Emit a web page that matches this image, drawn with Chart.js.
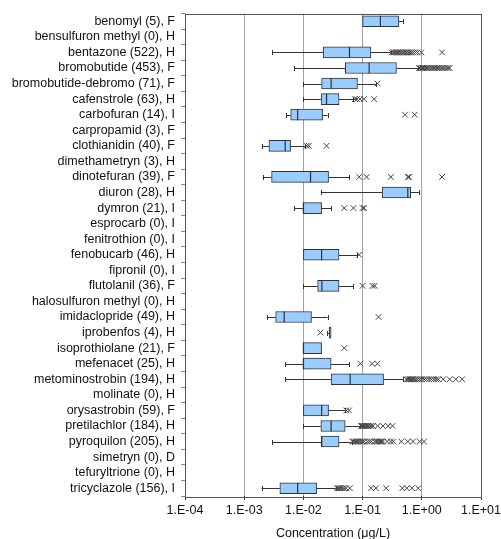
<!DOCTYPE html>
<html>
<head>
<meta charset="utf-8">
<script src="https://cdn.jsdelivr.net/npm/chart.js@4.4.1/dist/chart.umd.min.js"></script>
<style>
  html, body { margin: 0; padding: 0; background: #fff; }
  #wrap { width: 501px; height: 539px; position: relative; }
</style>
</head>
<body>
<div id="wrap"><canvas id="c"></canvas></div>
<script>
// Pesticide concentrations: one box per compound (whiskers, quartiles, median, outliers)
const compounds = [
  'benomyl', 'bensulfuron methyl', 'bentazone', 'bromobutide', 'bromobutide-debromo',
  'cafenstrole', 'carbofuran', 'carpropamid', 'clothianidin', 'dimethametryn',
  'dinotefuran', 'diuron', 'dymron', 'esprocarb', 'fenitrothion', 'fenobucarb',
  'fipronil', 'flutolanil', 'halosulfuron methyl', 'imidaclopride', 'iprobenfos',
  'isoprothiolane', 'mefenacet', 'metominostrobin', 'molinate', 'orysastrobin',
  'pretilachlor', 'pyroquilon', 'simetryn', 'tefuryltrione', 'tricyclazole'
];
const sampleCounts = [5, 0, 522, 453, 71, 63, 14, 3, 40, 3, 39, 28, 21, 0, 0, 46,
  0, 36, 0, 49, 4, 21, 25, 194, 0, 59, 184, 205, 0, 0, 156];
const useTypes = ['F', 'H', 'H', 'F', 'F', 'H', 'I', 'F', 'F', 'H', 'F', 'H', 'I', 'I', 'I', 'H',
  'I', 'F', 'H', 'H', 'H', 'F', 'H', 'H', 'H', 'F', 'H', 'H', 'D', 'H', 'I'];

const whiskerLow = [0.1, null, 0.003, 0.007, 0.01, 0.01, 0.0051, null, 0.00202, null,
  0.00205, 0.0197, 0.007, null, null, 0.01, null, 0.01, null, 0.00239, 0.0252,
  0.01, 0.00493, 0.00493, null, 0.01, 0.01, 0.003, null, null, 0.00197];
const q1 = [0.1, null, 0.0216, 0.051, 0.0203, 0.0199, 0.0061, null, 0.00262, null,
  0.0029, 0.214, 0.01, null, null, 0.01, null, 0.0174, null, 0.0034, 0.0273,
  0.01, 0.01, 0.0294, null, 0.01, 0.0197, 0.0203, null, null, 0.0040];
const median = [0.2, null, 0.060, 0.129, 0.0294, 0.0246, 0.0080, null, 0.00493, null,
  0.0132, 0.58, 0.01, null, null, 0.0203, null, 0.0205, null, 0.00474, 0.028,
  0.01, 0.01, 0.0616, null, 0.0203, 0.0294, 0.0203, null, null, 0.0080];
const q3 = [0.41, null, 0.138, 0.373, 0.082, 0.040, 0.0211, null, 0.00608, null,
  0.0266, 0.65, 0.0203, null, null, 0.040, null, 0.040, null, 0.0137, 0.0294,
  0.0203, 0.0294, 0.226, null, 0.0266, 0.0508, 0.040, null, null, 0.0167];
const whiskerHigh = [0.48, null, 0.30, 0.86, 0.168, 0.069, 0.0256, null, 0.0106, null,
  0.0593, 0.89, 0.0294, null, null, 0.082, null, 0.069, null, 0.0256, 0.0294,
  0.0203, 0.0593, 0.48, null, 0.050, 0.092, 0.065, null, null, 0.0354];
const outliers = [
  [],
  [],
  [0.31, 0.33, 0.35, 0.37, 0.39, 0.41, 0.43, 0.46, 0.49, 0.52, 0.55, 0.59, 0.63, 0.67, 0.72, 0.78, 0.85, 0.98, 2.2],
  [0.90, 0.95, 1.0, 1.05, 1.1, 1.16, 1.23, 1.3, 1.4, 1.5, 1.6, 1.7, 1.8, 1.9, 2.0, 2.2, 2.4, 2.6, 2.8, 2.95],
  [0.178],
  [0.074, 0.08, 0.09, 0.105, 0.157],
  [0.52, 0.76],
  [],
  [0.0113, 0.0123, 0.0246],
  [],
  [0.0875, 0.117, 0.30, 0.58, 0.61, 2.2],
  [],
  [0.049, 0.070, 0.1, 0.106],
  [],
  [],
  [0.0875],
  [],
  [0.10, 0.147, 0.16],
  [],
  [0.186],
  [0.0194],
  [0.049],
  [0.092, 0.145, 0.178],
  [0.55, 0.58, 0.61, 0.64, 0.67, 0.70, 0.74, 0.79, 0.85, 0.92, 1.0, 1.1, 1.2, 1.32, 1.45, 1.6, 1.75, 1.9, 2.3, 2.95, 3.75, 4.8],
  [],
  [0.053, 0.059],
  [0.094, 0.097, 0.10, 0.104, 0.108, 0.112, 0.117, 0.123, 0.13, 0.14, 0.15, 0.18, 0.22, 0.27, 0.32],
  [0.067, 0.071, 0.075, 0.079, 0.083, 0.088, 0.094, 0.1, 0.106, 0.12, 0.13, 0.14, 0.16, 0.17, 0.18, 0.19, 0.2, 0.21, 0.22, 0.26, 0.3, 0.33, 0.45, 0.58, 0.71, 0.92, 1.09],
  [],
  [],
  [0.037, 0.039, 0.041, 0.043, 0.046, 0.049, 0.053, 0.061, 0.139, 0.168, 0.25, 0.47, 0.56, 0.68, 0.87]
];
const xTickValues = [1e-4, 1e-3, 1e-2, 1e-1, 1, 10];

const rowLabels = compounds.map((n, i) => `${n} (${sampleCounts[i]}), ${useTypes[i]}`);

const boxData = q1.map((v, i) => (v == null ? null : [v, q3[i]]));
const outlierPoints = [];
outliers.forEach((list, i) => list.forEach(v => outlierPoints.push({ x: v, y: rowLabels[i] })));

function formatDecade(v) {
  const e = Math.round(Math.log10(v));
  const s = Math.abs(e).toString().padStart(2, '0');
  return '1.E' + (e < 0 ? '-' : '+') + s;
}

// Whiskers and caps under the boxes, medians on top, frame around the plot area
const boxExtras = {
  id: 'boxExtras',
  beforeDatasetsDraw(chart) {
    const { ctx, scales: { x, y } } = chart;
    ctx.save();
    ctx.strokeStyle = '#333';
    ctx.lineWidth = 1;
    const cap = 2.5;
    for (let i = 0; i < compounds.length; i++) {
      if (q1[i] == null) continue;
      const yc = Math.round(y.getPixelForValue(i)) + 0.5;
      const segs = [];
      if (whiskerLow[i] < q1[i]) segs.push([whiskerLow[i], q1[i], true]);
      if (whiskerHigh[i] > q3[i]) segs.push([q3[i], whiskerHigh[i], false]);
      segs.forEach(([a, b, isLow]) => {
        const xa = x.getPixelForValue(a), xb = x.getPixelForValue(b);
        ctx.beginPath();
        ctx.moveTo(xa, yc); ctx.lineTo(xb, yc);
        const xe = Math.round(isLow ? xa : xb) + 0.5;
        ctx.moveTo(xe, yc - cap); ctx.lineTo(xe, yc + cap);
        ctx.stroke();
      });
    }
    ctx.restore();
  },
  afterDatasetsDraw(chart) {
    const { ctx, scales: { x, y }, chartArea } = chart;
    ctx.save();
    ctx.strokeStyle = '#333';
    ctx.lineWidth = 1.2;
    for (let i = 0; i < compounds.length; i++) {
      if (median[i] == null) continue;
      const yc = y.getPixelForValue(i);
      const xm = x.getPixelForValue(median[i]);
      ctx.beginPath();
      ctx.moveTo(xm, yc - 5.5); ctx.lineTo(xm, yc + 5.5);
      ctx.stroke();
    }
    ctx.strokeStyle = '#555';
    ctx.lineWidth = 1;
    ctx.strokeRect(Math.round(chartArea.left) + 0.5, Math.round(chartArea.top) + 0.5,
      Math.round(chartArea.right - chartArea.left), Math.round(chartArea.bottom - chartArea.top));
    ctx.restore();
  }
};

const FONT = { family: '"Liberation Sans", Arial, sans-serif', size: 12.5 };

new Chart(document.getElementById('c'), {
  type: 'bar',
  data: {
    labels: rowLabels,
    datasets: [
      {
        type: 'bar',
        data: boxData,
        backgroundColor: '#99CCFF',
        borderColor: '#333',
        borderWidth: 1,
        borderSkipped: false,
        barThickness: 11,
        grouped: false,
        order: 2
      },
      {
        type: 'scatter',
        data: outlierPoints,
        pointStyle: 'crossRot',
        radius: 4,
        borderColor: '#444',
        backgroundColor: 'rgba(0,0,0,0)',
        borderWidth: 1,
        order: 1
      }
    ]
  },
  plugins: [boxExtras],
  options: {
    indexAxis: 'y',
    responsive: true,
    maintainAspectRatio: false,
    animation: false,
    layout: { padding: { top: 13, right: 20, left: 0, bottom: 0 } },
    plugins: { legend: { display: false }, tooltip: { enabled: false } },
    scales: {
      x: {
        type: 'logarithmic',
        min: 1e-4,
        max: 10,
        afterBuildTicks(scale) { scale.ticks = xTickValues.map(v => ({ value: v })); },
        afterFit(scale) {
          scale.height = 43;
          scale.paddingLeft = 0;
          scale.paddingRight = 0;
        },
        border: { display: false },
        grid: { color: '#a0a0a0', lineWidth: 1, tickColor: '#333', tickLength: 4 },
        ticks: { color: '#111', font: FONT, padding: 3, maxRotation: 0, autoSkip: false,
                 callback: v => formatDecade(v) },
        title: { display: true, text: 'Concentration (μg/L)', color: '#111', font: FONT,
                 padding: { top: 2, bottom: -2 } }
      },
      y: {
        type: 'category',
        labels: rowLabels,
        offset: true,
        afterFit(scale) { scale.width = 185; },
        border: { display: false },
        grid: { offset: true, drawOnChartArea: false, color: '#888', tickLength: 4 },
        ticks: { color: '#111', font: FONT, padding: 6, autoSkip: false }
      }
    }
  }
});
</script>
</body>
</html>
